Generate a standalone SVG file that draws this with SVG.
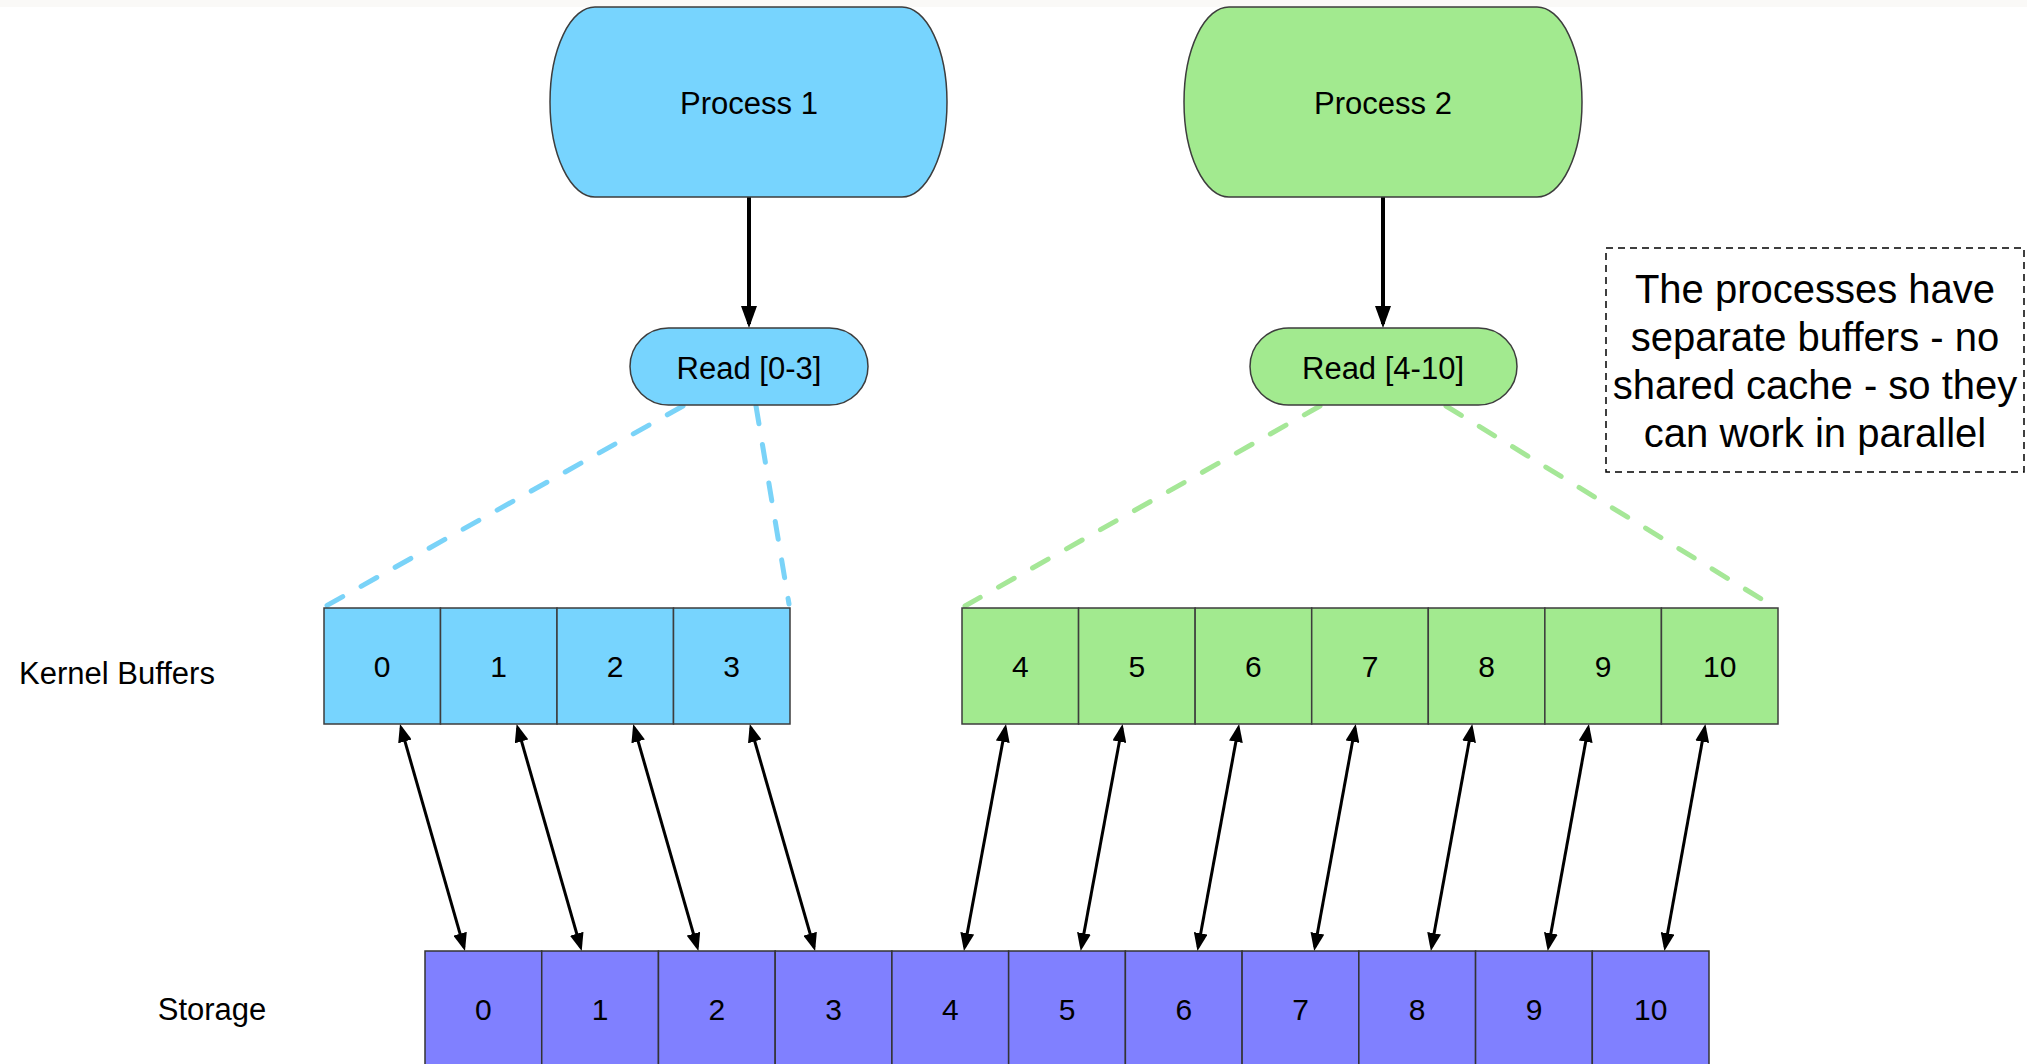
<svg xmlns="http://www.w3.org/2000/svg" width="2027" height="1064" viewBox="0 0 2027 1064">
<style>
text{font-family:"Liberation Sans",Arial,Helvetica,sans-serif;fill:#000;text-anchor:middle}
.lbl{font-size:31px}
.num{font-size:30px}
.note{font-size:40px}
.blue{fill:#77D4FE;stroke:#3d3d3d;stroke-width:1.5}
.green{fill:#A2EA8F;stroke:#3d3d3d;stroke-width:1.5}
.purple{fill:#8080FF;stroke:#333;stroke-width:1.5}
.bi{stroke:#000;stroke-width:3;fill:none;marker-start:url(#ah);marker-end:url(#ah)}
.down{stroke:#000;stroke-width:4;fill:none;marker-end:url(#ahBig)}
.dashB{stroke:#7AD3F8;stroke-width:5;fill:none;stroke-dasharray:18 21;stroke-linecap:round}
.dashG{stroke:#A5E797;stroke-width:5;fill:none;stroke-dasharray:18 21;stroke-linecap:round}
</style>
<defs>
<marker id="ah" markerUnits="userSpaceOnUse" viewBox="0 0 18 14" markerWidth="18" markerHeight="14" refX="14" refY="7" orient="auto-start-reverse"><path d="M0,0 L18,7 L0,14 z" fill="#000"/></marker>
<marker id="ahBig" markerUnits="userSpaceOnUse" viewBox="0 0 22 16" markerWidth="22" markerHeight="16" refX="18" refY="8" orient="auto"><path d="M0,0 L22,8 L0,16 z" fill="#000"/></marker>
</defs>
<rect x="0" y="0" width="2027" height="1064" fill="#fff"/>
<rect x="0" y="0" width="2027" height="7" fill="#FAF9F7"/>

<g id="connectors">
<line class="down" x1="749" y1="197" x2="749" y2="324"/>
<line class="down" x1="1383" y1="197" x2="1383" y2="324"/>
<line class="dashB" x1="683" y1="406" x2="326" y2="606"/>
<line class="dashB" x1="756" y1="406" x2="789" y2="604"/>
<line class="dashG" x1="1320" y1="406" x2="965" y2="606"/>
<line class="dashG" x1="1446" y1="406" x2="1776" y2="608"/>
<line class="bi" x1="401.1" y1="727.9" x2="463.9" y2="947.2"/>
<line class="bi" x1="517.7" y1="727.9" x2="580.6" y2="947.2"/>
<line class="bi" x1="634.3" y1="727.9" x2="697.3" y2="947.2"/>
<line class="bi" x1="750.9" y1="727.9" x2="814.0" y2="947.2"/>
<line class="bi" x1="1005.3" y1="727.9" x2="964.7" y2="947.1"/>
<line class="bi" x1="1121.9" y1="727.9" x2="1081.4" y2="947.1"/>
<line class="bi" x1="1238.4" y1="727.9" x2="1198.2" y2="947.1"/>
<line class="bi" x1="1355.0" y1="727.9" x2="1314.9" y2="947.1"/>
<line class="bi" x1="1471.6" y1="727.9" x2="1431.6" y2="947.1"/>
<line class="bi" x1="1588.2" y1="727.9" x2="1548.4" y2="947.1"/>
<line class="bi" x1="1704.7" y1="727.9" x2="1665.1" y2="947.1"/>
</g>

<g id="process1">
<rect class="blue" x="550" y="7" width="397" height="190" rx="45" ry="95"/>
<text class="lbl" x="749" y="114">Process 1</text>
</g>
<g id="process2">
<rect class="green" x="1184" y="7" width="398" height="190" rx="45" ry="95"/>
<text class="lbl" x="1383" y="114">Process 2</text>
</g>
<g id="read1">
<rect class="blue" x="630" y="328" width="238" height="77" rx="38.5" ry="38.5"/>
<text class="lbl" x="749" y="379">Read [0-3]</text>
</g>
<g id="read2">
<rect class="green" x="1250" y="328" width="267" height="77" rx="38.5" ry="38.5"/>
<text class="lbl" x="1383" y="379">Read [4-10]</text>
</g>
<g id="note">
<rect x="1606" y="248" width="418" height="224" fill="none" stroke="#000" stroke-width="1.5" stroke-dasharray="7 5"/>
<text class="note" x="1815" y="303">The processes have</text>
<text class="note" x="1815" y="351">separate buffers - no</text>
<text class="note" x="1815" y="399">shared cache - so they</text>
<text class="note" x="1815" y="447">can work in parallel</text>
</g>
<g id="label-kernel"><text class="lbl" x="117" y="684">Kernel Buffers</text></g>
<g id="label-storage"><text class="lbl" x="212" y="1020">Storage</text></g>

<g id="kb0"><rect class="blue" x="324" y="608" width="116.5" height="116"/><text class="num" x="382.2" y="677">0</text></g>
<g id="kb1"><rect class="blue" x="440.5" y="608" width="116.5" height="116"/><text class="num" x="498.7" y="677">1</text></g>
<g id="kb2"><rect class="blue" x="557" y="608" width="116.5" height="116"/><text class="num" x="615.2" y="677">2</text></g>
<g id="kb3"><rect class="blue" x="673.5" y="608" width="116.5" height="116"/><text class="num" x="731.7" y="677">3</text></g>

<g id="kb4"><rect class="green" x="962" y="608" width="116.57" height="116"/><text class="num" x="1020.3" y="677">4</text></g>
<g id="kb5"><rect class="green" x="1078.57" y="608" width="116.57" height="116"/><text class="num" x="1136.9" y="677">5</text></g>
<g id="kb6"><rect class="green" x="1195.14" y="608" width="116.57" height="116"/><text class="num" x="1253.4" y="677">6</text></g>
<g id="kb7"><rect class="green" x="1311.71" y="608" width="116.57" height="116"/><text class="num" x="1370" y="677">7</text></g>
<g id="kb8"><rect class="green" x="1428.29" y="608" width="116.57" height="116"/><text class="num" x="1486.6" y="677">8</text></g>
<g id="kb9"><rect class="green" x="1544.86" y="608" width="116.57" height="116"/><text class="num" x="1603.1" y="677">9</text></g>
<g id="kb10"><rect class="green" x="1661.43" y="608" width="116.57" height="116"/><text class="num" x="1719.7" y="677">10</text></g>

<g id="st0"><rect class="purple" x="425" y="951" width="116.73" height="117"/><text class="num" x="483.4" y="1020">0</text></g>
<g id="st1"><rect class="purple" x="541.73" y="951" width="116.73" height="117"/><text class="num" x="600.1" y="1020">1</text></g>
<g id="st2"><rect class="purple" x="658.46" y="951" width="116.73" height="117"/><text class="num" x="716.8" y="1020">2</text></g>
<g id="st3"><rect class="purple" x="775.19" y="951" width="116.73" height="117"/><text class="num" x="833.6" y="1020">3</text></g>
<g id="st4"><rect class="purple" x="891.92" y="951" width="116.73" height="117"/><text class="num" x="950.3" y="1020">4</text></g>
<g id="st5"><rect class="purple" x="1008.65" y="951" width="116.73" height="117"/><text class="num" x="1067" y="1020">5</text></g>
<g id="st6"><rect class="purple" x="1125.38" y="951" width="116.73" height="117"/><text class="num" x="1183.8" y="1020">6</text></g>
<g id="st7"><rect class="purple" x="1242.11" y="951" width="116.73" height="117"/><text class="num" x="1300.5" y="1020">7</text></g>
<g id="st8"><rect class="purple" x="1358.84" y="951" width="116.73" height="117"/><text class="num" x="1417.2" y="1020">8</text></g>
<g id="st9"><rect class="purple" x="1475.57" y="951" width="116.73" height="117"/><text class="num" x="1534" y="1020">9</text></g>
<g id="st10"><rect class="purple" x="1592.3" y="951" width="116.7" height="117"/><text class="num" x="1650.7" y="1020">10</text></g>
</svg>
